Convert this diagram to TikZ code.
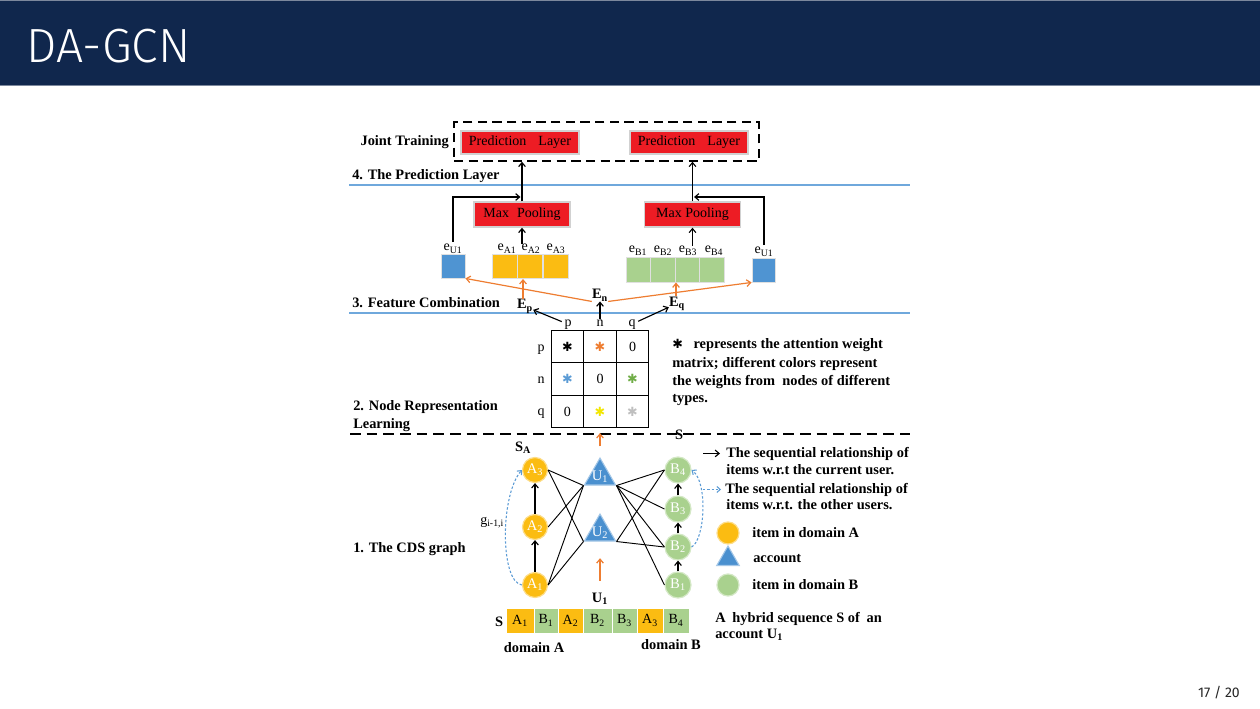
\documentclass[tikz,border=0pt]{standalone}
\usepackage{fontspec}
\setmainfont{Liberation Serif}
\newfontfamily\slidefont{Fira Sans Light}
\newfontfamily\pagefont{Fira Sans}
\newfontfamily\dejavu{DejaVu Sans}
\usetikzlibrary{shapes.geometric,matrix,calc,arrows.meta}

\definecolor{barblue}{HTML}{10274D}
\definecolor{predred}{HTML}{ED1C24}
\definecolor{itemA}{HTML}{FBBC12}
\definecolor{itemB}{HTML}{A9D18E}
\definecolor{acctblue}{HTML}{4A90CF}
\definecolor{embblue}{HTML}{4F94D2}
\definecolor{orng}{HTML}{EE7D31}
\definecolor{sepblue}{HTML}{6FA8DC}
\definecolor{dotblue}{HTML}{5B9BD5}
\definecolor{wgreen}{HTML}{70AD47}
\definecolor{wyellow}{HTML}{F2E600}
\definecolor{wgray}{HTML}{BFBFBF}

\newcommand{\sbs}[1]{\textsubscript{#1}}
\newcommand{\wt}[1]{{\dejavu\fontsize{9.5}{10}\selectfont\textcolor{#1}{✱}}}

\begin{document}
\begin{tikzpicture}[x=0.75pt,y=-0.75pt,
  bl/.style={font=\fontsize{10.8}{13}\selectfont\bfseries, inner sep=0pt},
  rg/.style={font=\fontsize{10.5}{12}\selectfont, inner sep=0pt},
  predbox/.style={rg, fill=predred, draw=black!18, line width=1.1pt,
    minimum width=88.5pt, minimum height=17.25pt},
  poolbox/.style={rg, fill=predred, draw=black!18, line width=1.1pt,
    minimum width=72pt, minimum height=18.75pt},
  embsq/.style={draw=black!12, line width=0.7pt, inner sep=0pt},
  seqcell/.style={rg, draw=white, line width=0.7pt, minimum height=18.75pt},
  itemnode/.style={circle, inner sep=0pt, text=white, line width=0.9pt,
    font=\fontsize{11}{12}\selectfont},
  nodeA/.style={itemnode, fill=itemA, draw=itemA!50!white, minimum size=18.75pt},
  nodeB/.style={itemnode, fill=itemB, draw=itemB!50!white, minimum size=19.5pt},
  acctn/.style={regular polygon, regular polygon sides=3, inner sep=0pt,
    fill=acctblue, draw=acctblue!50!white, line width=0.8pt, minimum size=27pt},
  tlab/.style={text=white, inner sep=0pt, font=\fontsize{11}{12}\selectfont},
  cell/.style={draw, line width=0.8pt, minimum width=24.4pt, minimum height=24.4pt,
    inner sep=0pt, font=\fontsize{10.5}{12}\selectfont},
  edge/.style={line width=0.7pt},
  barr/.style={-{Straight Barb[length=3pt,width=5pt]}, line width=0.85pt},
  oarr/.style={-{Straight Barb[length=3pt,width=5pt]}, line width=0.9pt, orng},
  dotarr/.style={-{Straight Barb[length=2.5pt,width=4.5pt]}, dotblue,
    dash pattern=on 1.8pt off 1.4pt, line width=0.8pt}
]
\useasboundingbox (0,0) rectangle (1260,709);
\fill[white] (0,0) rectangle (1260,709);

% slide header
\fill[barblue] (0,0) rectangle (1260,86);
\draw[barblue!55!white, line width=0.6pt] (0,0.5) -- (1260,0.5);
\draw[barblue!55!white, line width=0.6pt] (0,85.5) -- (1260,85.5);
\node[anchor=base west, text=white, inner sep=0pt,
  font=\slidefont\fontsize{36}{40}\selectfont] (title) at (26,63) {DA-GCN};
\node[anchor=base east, inner sep=0pt, text=black!85,
  font=\pagefont\fontsize{10.5}{12}\selectfont] (pg) at (1240,697) {17 / 20};

% section separators
\draw[sepblue, line width=1.1pt] (349,185) -- (910,185);
\draw[sepblue, line width=1.1pt] (349,313) -- (910,313);

% 4. prediction layer
\node[draw, line width=1.1pt, dash pattern=on 7pt off 4pt, inner sep=0pt,
  minimum width=228.75pt, minimum height=29.25pt] (JT) at (606.5,141.5) {};
\node[bl, anchor=base east] (JTlab) at (449,146) {Joint Training};
\node[predbox] (PL) at (520,142.5) {Prediction\hspace{9pt}Layer};
\node[predbox] (PR) at (689,142.5) {Prediction\hspace{9pt}Layer};
\node[bl, anchor=base west] (L4) at (352,180) {4. The Prediction Layer};

\node[poolbox] (MPL) at (522,214.5) {Max\hspace{6pt}Pooling};
\node[poolbox] (MPR) at (692.5,214.5) {Max Pooling};
\draw[barr] (MPL.north) -- (MPL.north |- JT.south);
\draw[barr] (MPR.north) -- (MPR.north |- JT.south);

% embeddings
\node[embsq, fill=embblue, minimum width=18pt, minimum height=18pt] (eUL) at (453,266) {};
\node[embsq, fill=itemA, minimum width=18.75pt, minimum height=18pt] (eA1) at (504.5,266) {};
\node[embsq, fill=itemA, minimum width=18.75pt, minimum height=18pt] (eA2) at (530,266) {};
\node[embsq, fill=itemA, minimum width=18.75pt, minimum height=18pt] (eA3) at (555.5,266) {};
\node[embsq, fill=itemB, minimum width=18.4pt, minimum height=18.75pt] (eB1) at (638.5,269.5) {};
\node[embsq, fill=itemB, minimum width=18.4pt, minimum height=18.75pt] (eB2) at (663,269.5) {};
\node[embsq, fill=itemB, minimum width=18.4pt, minimum height=18.75pt] (eB3) at (687.5,269.5) {};
\node[embsq, fill=itemB, minimum width=18.4pt, minimum height=18.75pt] (eB4) at (712,269.5) {};
\node[embsq, fill=embblue, minimum width=17.25pt, minimum height=18pt] (eUR) at (763.5,270) {};

\node[rg, anchor=base] (leUL) at (453,251) {e\sbs{U1}};
\node[rg, anchor=base] (leA1) at (507,251) {e\sbs{A1}};
\node[rg, anchor=base] (leA2) at (531,251) {e\sbs{A2}};
\node[rg, anchor=base] (leA3) at (556,251) {e\sbs{A3}};
\node[rg, anchor=base] (leB1) at (638,253) {e\sbs{B1}};
\node[rg, anchor=base] (leB2) at (663,253) {e\sbs{B2}};
\node[rg, anchor=base] (leB3) at (688,253) {e\sbs{B3}};
\node[rg, anchor=base] (leB4) at (714,253) {e\sbs{B4}};
\node[rg, anchor=base] (leUR) at (764,254) {e\sbs{U1}};

\draw[barr] (MPL.south |- leA2.north) -- (MPL.south);
\draw[barr] (MPR.south |- leB3.north) -- (MPR.south);
\coordinate (jL) at (520.5,197);
\coordinate (jR) at (694,197);
\draw[barr] ([yshift=1.5pt]leUL.north) |- (jL);
\draw[barr] ([yshift=1.5pt]leUR.north) |- (jR);

% 3. feature combination
\node[bl, anchor=base west] (L3) at (352,307) {3. Feature Combination};
\node[bl, anchor=base] (Ep) at (525,309) {E\sbs{p}};
\node[bl, anchor=base] (En) at (600,299) {E\sbs{n}};
\node[bl, anchor=base] (Eq) at (677,306) {E\sbs{q}};
\draw[oarr] (En.south west) -- (eUL.south east);
\draw[oarr] (En.south east) -- (eUR.south west);
\coordinate (oaL) at (523,279);
\coordinate (oaR) at (676,282.5);
\draw[oarr] (Ep.north -| oaL) -- (oaL);
\draw[oarr] (Eq.north -| oaR) -- (oaR);

% 2. attention matrix
\matrix (M) [matrix of nodes, nodes={cell}, column sep=-0.8pt, row sep=-0.8pt] at (600,379) {
  \wt{black}  & \wt{orng}    & 0          \\
  \wt{dotblue}& 0            & \wt{wgreen}\\
  0           & \wt{wyellow} & \wt{wgray} \\
};
\node[rg, anchor=base] (cp) at (568,326) {p};
\node[rg, anchor=base] (cn) at (600,326) {n};
\node[rg, anchor=base] (cq) at (632,326) {q};
\node[rg, anchor=base] (rp) at (541,351) {p};
\node[rg, anchor=base] (rn) at (541,383) {n};
\node[rg, anchor=base] (rq) at (541,415) {q};
\draw[barr, shorten <=2pt] (cp) -- (Ep);
\draw[barr] (cn) -- (En);
\draw[barr, shorten <=2pt] (cq) -- (Eq);

\node[bl, anchor=base west] (ann1) at (672,349) {\wt{black}\hspace{8pt}represents the attention weight};
\node[bl, anchor=base west] (ann2) at (672,367) {matrix; different colors represent};
\node[bl, anchor=base west] (ann3) at (672,385) {the weights from\ \ nodes of different};
\node[bl, anchor=base west] (ann4) at (672,402) {types.};

\node[bl, anchor=base west] (L2a) at (353,410) {2. Node Representation};
\node[bl, anchor=base west] (L2b) at (353,428) {Learning};

% 1. CDS graph
\node[bl, anchor=base] (SB) at (679,439) {S};
\draw[line width=1.3pt, dash pattern=on 8pt off 4.5pt] (350,434) -- (910,434);

\node[nodeA] (A3) at (535,470) {A\sbs{3}};
\node[nodeA] (A2) at (535,527) {A\sbs{2}};
\node[nodeA] (A1) at (535,585) {A\sbs{1}};
\node[acctn] (U1) at (600,476) {};
\node[acctn] (U2) at (600,532) {};
\node[tlab] (U1t) at (600,477) {U\sbs{1}};
\node[tlab] (U2t) at (600,533) {U\sbs{2}};
\node[nodeB] (B4) at (678,470) {B\sbs{4}};
\node[nodeB] (B3) at (678,509) {B\sbs{3}};
\node[nodeB] (B2) at (678,547) {B\sbs{2}};
\node[nodeB] (B1) at (678,585) {B\sbs{1}};

\draw[edge] (A3.east) -- (U1.corner 2);
\draw[edge] (A3.east) -- (U2.corner 2);
\draw[edge] (A2.east) -- (U1.corner 2);
\draw[edge] (A1.east) -- (U1.corner 2);
\draw[edge] (A1.east) -- (U2.corner 2);
\draw[edge] (U1.corner 3) -- (B4.west);
\draw[edge] (U1.corner 3) -- (B3.west);
\draw[edge] (U1.corner 3) -- (B2.west);
\draw[edge] (U1.corner 3) -- (B1.west);
\draw[edge] (U2.corner 3) -- (B4.west);
\draw[edge] (U2.corner 3) -- (B2.west);

\draw[barr] (A1) -- (A2);
\draw[barr] (A2) -- (A3);
\draw[barr] (B1) -- (B2);
\draw[barr] (B2) -- (B3);
\draw[barr] (B3) -- (B4);
\draw[dotarr] (A1.west) .. controls (500,582) and (500,495) .. (A3.west);
\draw[dotarr] (B2.east) .. controls (705,540) and (708,482) .. (B4.east);

\draw[oarr] ([yshift=8pt]U1.corner 1) -- (M.south);
\node[bl, anchor=base] (Uq) at (600,602) {U\sbs{1}};
\draw[oarr] ([yshift=8.5pt]Uq.north) -- ([yshift=-12.5pt]U2.south);

\node[bl, anchor=base] (SA) at (523,451) {S\sbs{A}};
\node[rg, anchor=base west] (glab) at (480,524) {g\sbs{i-1,i}};
\node[bl, anchor=base west] (L1) at (353,552) {1. The CDS graph};

% legend
\node[bl, anchor=base west] (lg1a) at (726,457) {The sequential relationship of};
\node[bl, anchor=base west] (lg1b) at (726,474) {items w.r.t the current user.};
\draw[barr] ([xshift=-17.25pt]lg1a.west) -- ([xshift=-4.5pt]lg1a.west);
\node[bl, anchor=base west] (lg2a) at (725,493) {The sequential relationship of};
\node[bl, anchor=base west] (lg2b) at (726,509) {items w.r.t. the other users.};
\draw[dotarr] ([xshift=-16.5pt]lg2a.west) -- ([xshift=-3pt]lg2a.west);

\node[nodeA, minimum size=16.5pt] (kA) at (728,533) {};
\node[acctn, minimum size=19.5pt] (kU) at (728,559) {};
\node[nodeB, minimum size=16.5pt] (kB) at (728,585) {};
\node[bl, anchor=base west] (tA) at (752,537) {item in domain A};
\node[bl, anchor=base west] (tU) at (753,562) {account};
\node[bl, anchor=base west] (tB) at (752,589) {item in domain B};

% hybrid sequence
\node[bl, anchor=base] (Sq) at (499,626) {S};
\node[seqcell, fill=itemA, minimum width=21pt]    (sA1) at (520,620.5)   {A\sbs{1}};
\node[seqcell, fill=itemB, minimum width=18pt]    (sB1) at (546,620.5)   {B\sbs{1}};
\node[seqcell, fill=itemA, minimum width=18.75pt] (sA2) at (570.5,620.5) {A\sbs{2}};
\node[seqcell, fill=itemB, minimum width=21.75pt] (sB2) at (597.5,620.5) {B\sbs{2}};
\node[seqcell, fill=itemB, minimum width=18.75pt] (sB3) at (624.5,620.5) {B\sbs{3}};
\node[seqcell, fill=itemA, minimum width=19.5pt]  (sA3) at (650,620.5)   {A\sbs{3}};
\node[seqcell, fill=itemB, minimum width=19.5pt]  (sB4) at (676,620.5)   {B\sbs{4}};
\node[bl, anchor=base] (domA) at (534,652) {domain A};
\node[bl, anchor=base] (domB) at (671,649) {domain B};
\node[bl, anchor=base west] (hy1) at (715,622) {A\hspace{5pt}hybrid sequence S of\hspace{5pt}an};
\node[bl, anchor=base west] (hy2) at (715,638) {account U\sbs{1}};
\end{tikzpicture}
\end{document}
